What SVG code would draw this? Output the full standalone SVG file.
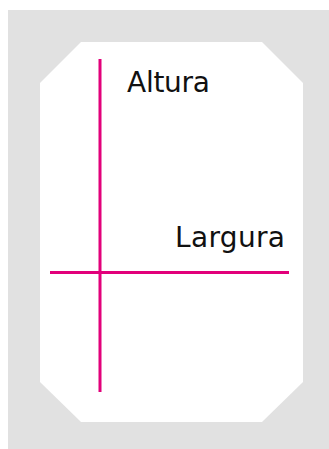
<svg xmlns="http://www.w3.org/2000/svg" width="329" height="449" viewBox="0 0 329 449">
<style>
.ln{stroke:#E2007A;stroke-width:3;fill:none}
.lbl{font-family:"DejaVu Sans","Liberation Sans",sans-serif;font-size:28px;fill:#111}
</style>
<rect x="8" y="10" width="321" height="439" fill="#E1E1E1"/>
<g id="sheet">
<polygon points="81,42 262,42 303,83 303,382 262,422 81,422 40,382 40,83" fill="#FFFFFF"/>
</g>
<g id="connectors">
<line class="ln" x1="100" y1="59" x2="100" y2="392"/>
<line class="ln" x1="50" y1="272.5" x2="289" y2="272.5"/>
</g>
<g id="altura"><text class="lbl" x="127" y="92" textLength="83" lengthAdjust="spacing">Altura</text></g>
<g id="largura"><text class="lbl" x="175" y="247" textLength="110" lengthAdjust="spacing">Largura</text></g>
</svg>
